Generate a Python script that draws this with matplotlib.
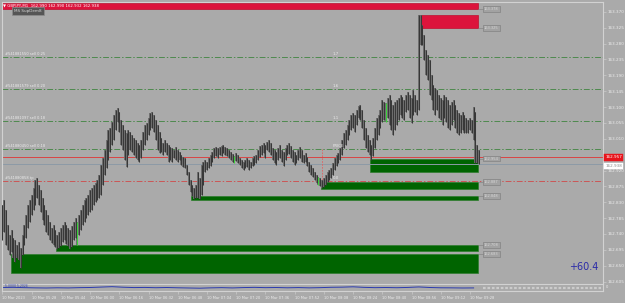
import matplotlib
matplotlib.use("Agg")
import matplotlib.pyplot as plt
import matplotlib.transforms as mtransforms
from matplotlib.patches import Rectangle
import numpy as np

W, H = 625, 303

# GBPJPY M1 bars, high / low
highs = [162.823, 162.837, 162.808, 162.766, 162.737, 162.751, 162.728, 162.723, 162.709, 162.717,
         162.700, 162.737, 162.766, 162.794, 162.823, 162.837, 162.851, 162.870, 162.893, 162.899,
         162.879, 162.865, 162.842, 162.823, 162.808, 162.794, 162.774, 162.757, 162.766, 162.751,
         162.737, 162.745, 162.757, 162.766, 162.774, 162.766, 162.757, 162.751, 162.763, 162.774,
         162.786, 162.774, 162.794, 162.808, 162.823, 162.837, 162.842, 162.851, 162.865, 162.870,
         162.879, 162.884, 162.893, 162.908, 162.936, 162.956, 162.978, 163.007, 163.035, 163.041,
         163.058, 163.078, 163.092, 163.098, 163.086, 163.064, 163.050, 163.035, 163.026, 163.035,
         163.029, 163.021, 163.012, 163.007, 162.998, 162.993, 163.007, 163.029, 163.050, 163.055,
         163.069, 163.084, 163.086, 163.078, 163.064, 163.050, 163.029, 163.012, 162.998, 163.007,
         162.998, 162.993, 162.987, 162.984, 162.978, 162.987, 162.978, 162.972, 162.964, 162.958,
         162.956, 162.936, 162.916, 162.893, 162.879, 162.870, 162.879, 162.916, 162.899, 162.936,
         162.944, 162.950, 162.944, 162.956, 162.964, 162.972, 162.984, 162.987, 162.984, 162.987,
         162.990, 162.993, 162.987, 162.984, 162.978, 162.972, 162.967, 162.961, 162.970, 162.964,
         162.956, 162.950, 162.944, 162.950, 162.956, 162.950, 162.944, 162.956, 162.961, 162.964,
         162.978, 162.990, 162.993, 162.998, 162.993, 163.001, 163.007, 162.998, 162.984, 162.978,
         162.972, 162.984, 162.993, 162.978, 162.972, 162.984, 162.993, 162.998, 162.990, 162.978,
         162.972, 162.964, 162.978, 162.987, 162.978, 162.964, 162.970, 162.958, 162.944, 162.936,
         162.927, 162.916, 162.908, 162.902, 162.899, 162.893, 162.899, 162.908, 162.916, 162.922,
         162.927, 162.941, 162.956, 162.964, 162.970, 162.984, 163.007, 163.026, 163.035, 163.050,
         163.064, 163.078, 163.084, 163.078, 163.092, 163.103, 163.106, 163.092, 163.064, 163.041,
         163.021, 163.007, 162.993, 163.012, 163.041, 163.069, 163.078, 163.092, 163.120, 163.115,
         163.112, 163.126, 163.134, 163.120, 163.106, 163.115, 163.120, 163.126, 163.134, 163.129,
         163.120, 163.134, 163.143, 163.134, 163.126, 163.149, 163.134, 163.120, 163.362, 163.362,
         163.333, 163.305, 163.262, 163.248, 163.234, 163.191, 163.163, 163.154, 163.149, 163.134,
         163.126, 163.120, 163.134, 163.129, 163.120, 163.106, 163.115, 163.120, 163.106, 163.092,
         163.084, 163.078, 163.086, 163.078, 163.069, 163.064, 163.069, 163.064, 163.101, 163.086,
         162.993, 162.978]
lows = [162.723, 162.745, 162.709, 162.695, 162.681, 162.689, 162.672, 162.660, 162.672, 162.666,
        162.643, 162.681, 162.709, 162.728, 162.757, 162.774, 162.794, 162.808, 162.823, 162.842,
        162.823, 162.802, 162.780, 162.766, 162.745, 162.737, 162.723, 162.714, 162.709, 162.703,
        162.697, 162.700, 162.706, 162.717, 162.723, 162.712, 162.706, 162.697, 162.703, 162.723,
        162.728, 162.709, 162.737, 162.751, 162.766, 162.774, 162.786, 162.794, 162.802, 162.808,
        162.823, 162.831, 162.837, 162.842, 162.851, 162.879, 162.908, 162.927, 162.950, 162.972,
        162.993, 163.007, 163.035, 163.058, 163.029, 162.993, 162.978, 162.950, 162.930, 162.964,
        162.978, 162.972, 162.964, 162.956, 162.950, 162.944, 162.956, 162.978, 162.993, 163.007,
        163.021, 163.035, 163.041, 163.029, 163.007, 162.978, 162.970, 162.972, 162.964, 162.972,
        162.964, 162.944, 162.950, 162.944, 162.956, 162.950, 162.944, 162.950, 162.936, 162.930,
        162.927, 162.908, 162.879, 162.859, 162.848, 162.839, 162.842, 162.842, 162.839, 162.851,
        162.879, 162.916, 162.922, 162.927, 162.933, 162.944, 162.956, 162.961, 162.956, 162.964,
        162.961, 162.970, 162.964, 162.961, 162.956, 162.950, 162.944, 162.941, 162.947, 162.941,
        162.936, 162.927, 162.922, 162.927, 162.930, 162.922, 162.927, 162.933, 162.936, 162.941,
        162.950, 162.958, 162.964, 162.970, 162.956, 162.978, 162.972, 162.964, 162.950, 162.941,
        162.936, 162.950, 162.956, 162.944, 162.933, 162.950, 162.964, 162.967, 162.956, 162.944,
        162.936, 162.941, 162.950, 162.956, 162.944, 162.941, 162.944, 162.933, 162.916, 162.908,
        162.902, 162.893, 162.884, 162.879, 162.876, 162.870, 162.873, 162.879, 162.887, 162.893,
        162.899, 162.908, 162.922, 162.933, 162.941, 162.950, 162.964, 162.984, 162.993, 163.007,
        163.021, 163.035, 163.041, 163.029, 163.050, 163.069, 163.064, 163.041, 163.007, 162.984,
        162.972, 162.964, 162.950, 162.961, 162.984, 163.007, 163.021, 163.041, 163.058, 163.064,
        163.058, 163.069, 163.050, 163.035, 163.021, 163.035, 163.050, 163.064, 163.078, 163.069,
        163.064, 163.086, 163.092, 163.069, 163.055, 163.078, 163.086, 163.078, 163.092, 163.276,
        163.276, 163.234, 163.191, 163.177, 163.134, 163.120, 163.092, 163.078, 163.092, 163.069,
        163.064, 163.050, 163.069, 163.058, 163.041, 163.035, 163.050, 163.064, 163.041, 163.026,
        163.021, 163.026, 163.035, 163.026, 163.026, 163.026, 163.035, 163.026, 163.007, 162.941,
        162.941, 162.938]
bull_bars = [41, 127, 173, 210]

# supply / demand zones
zone_start = [0, 229, 202, 175, 104, 30, 5]
zone_low = [163.378, 163.325, 162.917, 162.869, 162.837, 162.693, 162.628]
zone_high = [163.395, 163.362, 162.954, 162.887, 162.848, 162.708, 162.683]
zone_kind = ["supply", "supply", "demand", "demand", "demand", "demand", "demand"]

# open orders drawn as horizontal lines
order_prices = [163.243, 163.152, 163.061, 162.980, 162.891]
order_labels = ["#541881550 sell 0.25", "#541881579 sell 0.20", "#541881097 sell 0.18",
                "#541880450 sell 0.18", "#541880858 tp"]
order_kind = ["sell", "sell", "sell", "sell", "tp"]
level_tags = ["1.7", "1.6", "1.1", "PRICE", "0.0"]

ask_price = 162.957
bid_price = 162.938

# time axis
time_bars = [0, 16, 32, 48, 64, 80, 96, 112, 128, 144, 160, 176, 192, 208, 224, 240, 256]
time_labels = ["10 Mar 2023", "10 Mar 05:28", "10 Mar 05:44", "10 Mar 06:00", "10 Mar 06:16",
               "10 Mar 06:32", "10 Mar 06:48", "10 Mar 07:04", "10 Mar 07:20", "10 Mar 07:36",
               "10 Mar 07:52", "10 Mar 08:08", "10 Mar 08:24", "10 Mar 08:40", "10 Mar 08:56",
               "10 Mar 09:12", "10 Mar 09:28"]

# sub-window oscillator, sampled every 6 bars
osc_bars = list(range(0, 262, 6))
osc_vals = [5.0, 5.2, 4.8, 4.5, 4.3, 4.6, 4.4, 4.8, 5.0, 5.6, 6.2, 5.4, 4.9, 5.1, 4.7,
            5.0, 4.6, 4.3, 4.0, 4.5, 4.8, 4.4, 4.9, 5.2, 4.8, 5.0, 4.6, 4.9, 4.5, 4.8,
            5.3, 5.5, 6.0, 5.2, 4.8, 5.0, 4.7, 5.1, 5.8, 5.0, 4.6, 4.5, 4.3, 4.4]

bg = "#aaaaaa"
frame = "#d2d2d2"
txt = "#ececec"

fig = plt.figure(figsize=(W / 100, H / 100), dpi=100, facecolor=bg)


def fx(px):
    return px / W


def fy(py):
    return 1 - py / H


ax = fig.add_axes([fx(2), fy(283), fx(601), 281 / H], facecolor=bg)
axi = fig.add_axes([fx(2), fy(291), fx(601), 7 / H], facecolor=bg)

xlim = (-0.27, 328.86)
ax.set_xlim(*xlim)
ax.set_ylim(162.601, 163.398)

# zones
end = len(highs) - 1.5
for s, lo, hi, k in zip(zone_start, zone_low, zone_high, zone_kind):
    fc = "#dc143c" if k == "supply" else "#006400"
    ec = "#c0102f" if k == "supply" else "#2e7d2e"
    x0 = s - 0.5 if s > 0 else xlim[0]
    ax.add_patch(Rectangle((x0, lo), end - x0, hi - lo, facecolor=fc, edgecolor=ec,
                           lw=0.5, zorder=1))
    edge = lo if k == "supply" else hi
    ax.plot([end, 263.5], [edge, edge], color="#7c7c7c", lw=0.4, zorder=1)
    ax.text(263.7, edge, f"{edge:.3f}", fontsize=2.6, color="#d6d6d6", va="center",
            ha="left", zorder=3,
            bbox=dict(boxstyle="square,pad=0.25", fc="#a2a2a2", ec="#7a7a7a", lw=0.4))

# order lines
for p, lab, k, tag in zip(order_prices, order_labels, order_kind, level_tags):
    c = "#4e8a4e" if k == "sell" else "#cc5656"
    ax.axhline(p, color=c, lw=0.7, ls=(0, (6, 2, 1.5, 2)), zorder=2)
    ax.text(1.5, p + 0.003, lab, fontsize=2.6, color=txt, va="bottom", ha="left", zorder=4)
    ax.text(181, p + 0.003, tag, fontsize=2.8, color=txt, va="bottom", ha="left", zorder=4)

ax.axhline(ask_price, color="#d94444", lw=0.7, zorder=2)
ax.axhline(bid_price, color="#8d9aa6", lw=0.7, zorder=2)

# trade link
ax.plot([175, 175], [order_prices[3], order_prices[4]], color="#e06060", lw=0.6,
        ls=(0, (2, 1.5)), zorder=2)

# candles
x = np.arange(len(highs))
cols = ["#3cd23c" if i in bull_bars else "#383838" for i in x]
ax.vlines(x, lows, highs, colors="#6e6e6e", lw=1.35, zorder=3)
ax.vlines(x, lows, highs, colors=cols, lw=0.75, zorder=3)

# price axis
ticks = [163.370 - 0.045 * k for k in range(18) if k != 9]
ax.yaxis.tick_right()
ax.set_yticks(ticks)
ax.set_yticklabels([f"{t:.3f}" for t in ticks])
ax.tick_params(axis="y", length=2, width=0.4, color=frame, labelsize=3,
               labelcolor=txt, pad=1.5)
ax.set_xticks([])
for sp in ["left", "top", "right"]:
    ax.spines[sp].set_color(frame)
    ax.spines[sp].set_linewidth(0.8)
ax.spines["bottom"].set_visible(False)

tr = mtransforms.blended_transform_factory(ax.transAxes, ax.transData)
ax.text(1.004, ask_price, f"{ask_price:.3f}", transform=tr, fontsize=3, color="white",
        va="center", ha="left", zorder=5,
        bbox=dict(boxstyle="square,pad=0.25", fc="#e8141c", ec="#e8141c", lw=0.3))
ax.text(1.004, bid_price - 0.006, f"{bid_price:.3f}", transform=tr, fontsize=3,
        color="#8a8a8a", va="center", ha="left", zorder=5,
        bbox=dict(boxstyle="square,pad=0.25", fc="white", ec="white", lw=0.3))

# sub window
axi.set_xlim(*xlim)
axi.set_ylim(0, 10)
axi.plot(osc_bars, osc_vals, color="#2b3bb0", lw=0.7)
axi.plot([263, 328], [5, 5], color="#cccccc", lw=1.6, ls=(0, (1.2, 0.8)))
axi.set_yticks([])
axi.set_xticks(time_bars)
axi.set_xticklabels(time_labels)
axi.tick_params(axis="x", length=2, width=0.4, color=frame, labelsize=2.6,
                labelcolor=txt, pad=1.5)
for lab in axi.get_xticklabels():
    lab.set_ha("left")
for sp in axi.spines.values():
    sp.set_color(frame)
    sp.set_linewidth(0.8)
axi.text(1.5, 6.5, "5.0000 5.2024", fontsize=2.2, color="#3040b0", va="center")
fig.text(fx(606), fy(287.5), "0", fontsize=2.6, color=txt, va="center")

# header and labels
fig.text(fx(3), fy(6), "\u25bc GBPJPY,M1  162.990 162.990 162.932 162.938", fontsize=2.8,
         color="white", va="center", ha="left")
fig.text(fx(14), fy(11), "MS SupDem8", fontsize=3, color="#d4d4d4", va="center", ha="left",
         bbox=dict(boxstyle="square,pad=0.45", fc="#555555", ec="#8c8c8c", lw=0.5))
fig.text(fx(569), fy(267), "+60.4", fontsize=7, color="#2a2aa8", va="center", ha="left")

fig.savefig("out.png", dpi=100, facecolor=bg)
